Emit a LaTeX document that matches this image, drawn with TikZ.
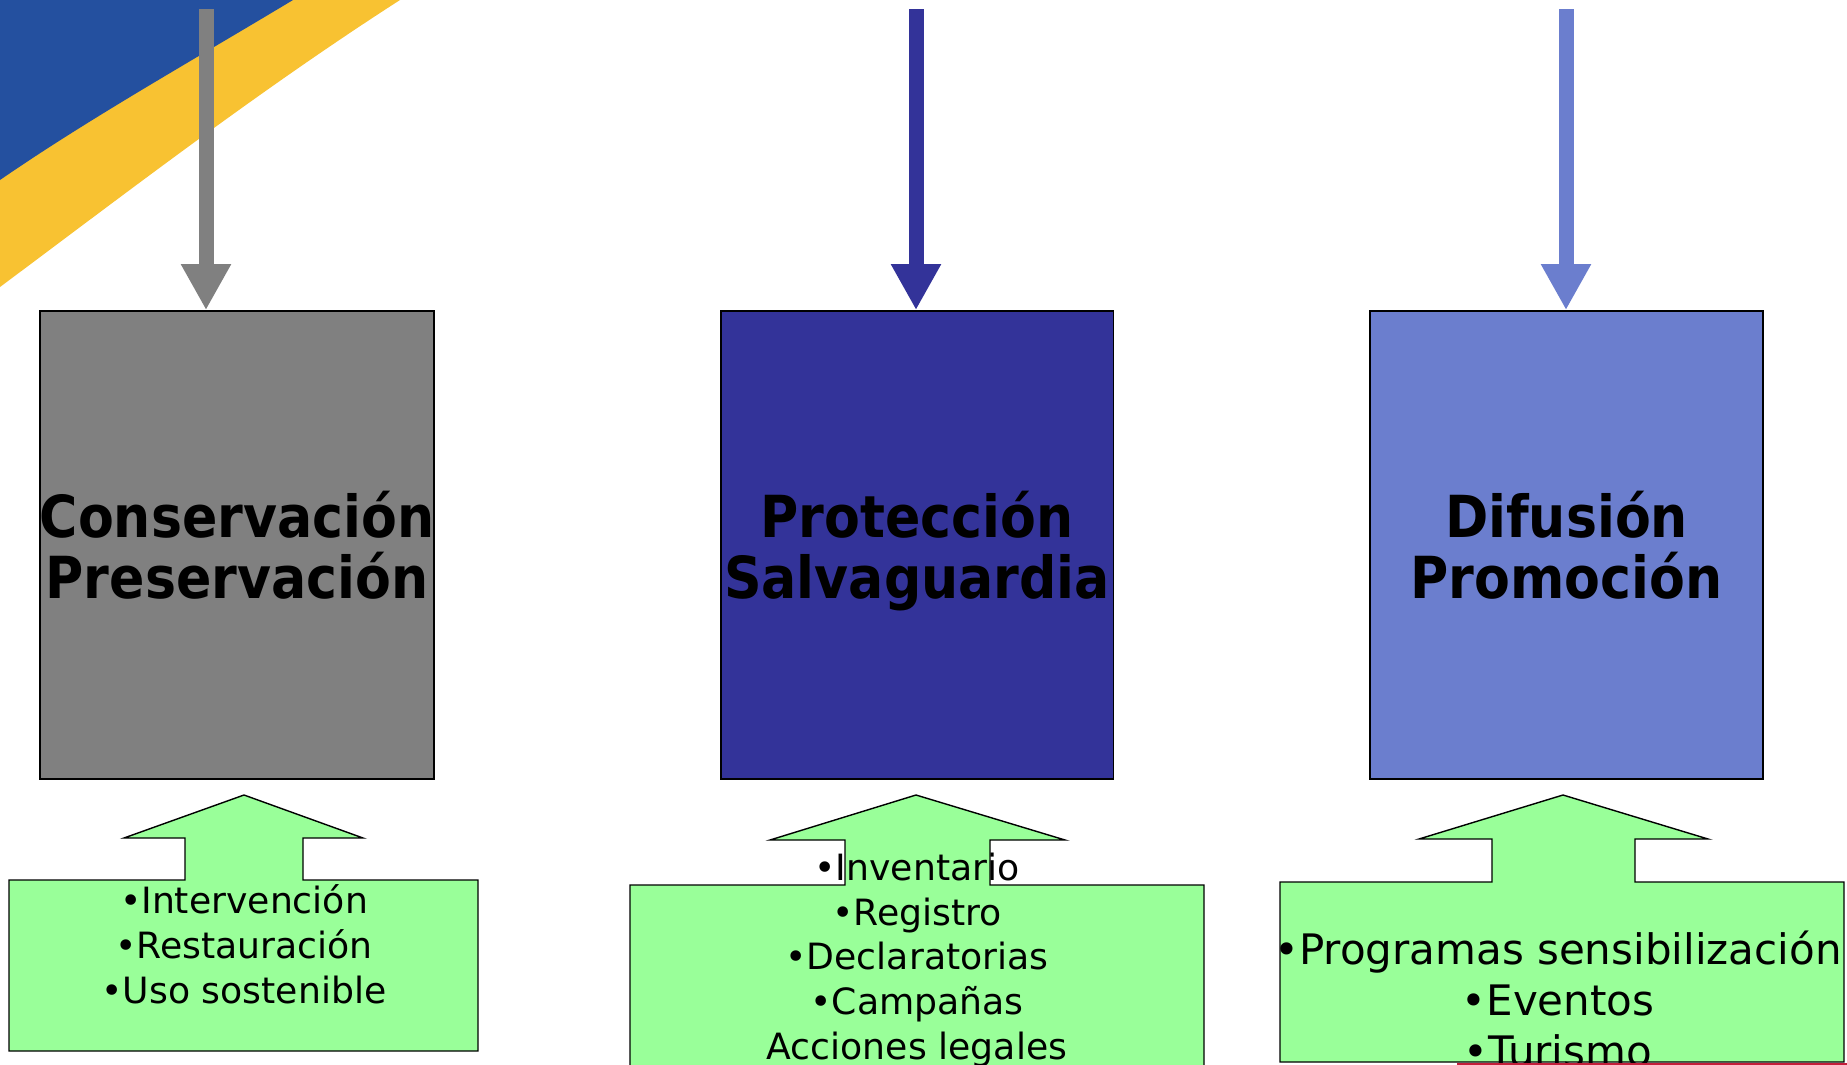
\documentclass[tikz,border=0pt]{standalone}
\usepackage{fontspec}
\setmainfont{DejaVu Sans}
\newfontfamily\titlefont{DejaVu Sans}[FakeStretch=0.9]
\usetikzlibrary{positioning, arrows.meta}

\definecolor{swooshblue}{HTML}{24509F}
\definecolor{swooshyellow}{HTML}{F8C232}
\definecolor{consgray}{HTML}{808080}
\definecolor{protblue}{HTML}{333399}
\definecolor{difblue}{HTML}{6B7ECE}
\definecolor{itemgreen}{HTML}{99FF99}
\definecolor{logored}{HTML}{C41E3A}

\tikzstyle{topic} = [rectangle, draw=black, line width=1.1pt, inner sep=0pt, minimum width=7.86cm, minimum height=9.36cm, align=center, font=\titlefont\bfseries\fontsize{33}{34.7}\selectfont]
\tikzstyle{feed} = [line width=0.3cm, -{Triangle[width=0.94cm, length=0.92cm]}]
\tikzstyle{callout} = [draw=black, fill=itemgreen, line width=0.8pt, line join=miter]
\tikzstyle{items} = [align=center, inner sep=0pt, font=\fontsize{20.6}{25.6}\selectfont]
\tikzstyle{bigitems} = [align=center, inner sep=0pt, font=\fontsize{23.9}{29}\selectfont]

\begin{document}
\begin{tikzpicture}[x=0.02cm, y=-0.02cm]

  \useasboundingbox (0,0) rectangle (1847,1065);
  \clip (0,0) rectangle (1847,1065);
  \fill[white] (0,0) rectangle (1847,1065);

  % Corner swoosh
  \fill[swooshyellow] (0,0) -- (400,0) .. controls (260,90) and (130,190) .. (0,287) -- cycle;
  \fill[swooshblue] (0,0) -- (293,0) .. controls (190,62) and (90,118) .. (0,180) -- cycle;

  % Main topics
  \node (cons) [topic, fill=consgray] at (237,545) {Conservación\\Preservación};
  \node (prot) [topic, fill=protblue] at (917,545) {Protección\\\raisebox{0pt}[\height][0pt]{Salvaguardia}};
  \node (dif) [topic, fill=difblue] at (1566.5,545) {Difusión\\Promoción};

  % Incoming arrows
  \coordinate (cons_in) at (206,9);
  \coordinate (prot_in) at (916,9);
  \coordinate (dif_in) at (1566,9);
  \draw[feed, consgray] (cons_in) -- (cons_in |- cons.north);
  \draw[feed, protblue] (prot_in) -- (prot_in |- prot.north);
  \draw[feed, difblue] (dif_in) -- (dif_in |- dif.north);

  % Up-arrow callouts
  \draw[callout] (9,1051) -- (9,880) -- (185,880) -- (185,838) -- (124,838) -- (244,795)
    -- (363,838) -- (303,838) -- (303,880) -- (478,880) -- (478,1051) -- cycle;
  \draw[callout] (630,1090) -- (630,885) -- (845,885) -- (845,840) -- (770,840) -- (916,795)
    -- (1065,840) -- (990,840) -- (990,885) -- (1204,885) -- (1204,1090) -- cycle;
  \draw[callout] (1280,1062) -- (1280,882) -- (1492,882) -- (1492,839) -- (1419,839) -- (1563,795)
    -- (1708,839) -- (1635,839) -- (1635,882) -- (1844,882) -- (1844,1062) -- cycle;

  \node (cons_items) [items] at (244,944) {•Intervención\\•Restauración\\•Uso sostenible};
  \node (prot_items) [items] at (917,960) {•Inventario\\•Registro\\•Declaratorias\\•Campañas\\Acciones legales};
  \node (dif_items) [bigitems] at (1558,999) {•Programas sensibilización\\•Eventos\\•Turismo};

  % Logo fragment
  \fill[logored] (1457,1063) rectangle (1847,1065);

\end{tikzpicture}
\end{document}
